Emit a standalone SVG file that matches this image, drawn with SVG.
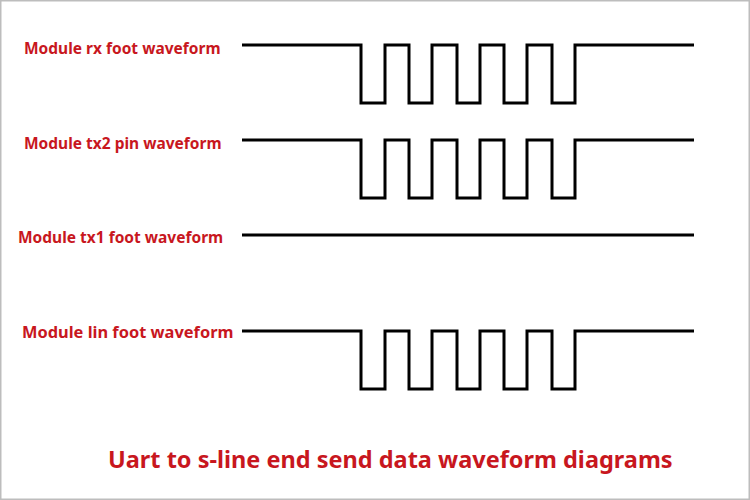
<svg xmlns="http://www.w3.org/2000/svg" width="750" height="500" viewBox="0 0 750 500">
<style>
.bg{fill:#ffffff;stroke:#bdbdbd;stroke-width:1.5}
.lbl{font-family:"Noto Sans","Liberation Sans",sans-serif;font-weight:bold;font-size:15.5px;fill:#c8171e}
.big{font-size:16.4px}
.title{font-family:"Noto Sans","Liberation Sans",sans-serif;font-weight:bold;font-size:23.5px;fill:#c8171e}
.wave{fill:none;stroke:#000000;stroke-width:3;stroke-linejoin:miter;stroke-linecap:butt}
</style>
<defs>
<path id="burst" d="M0,0 H119 V58 H143 V0 H167 V58 H190 V0 H215 V58 H238 V0 H262 V58 H285 V0 H310 V58 H333 V0 H452"/>
</defs>
<rect class="bg" x="0.75" y="0.75" width="748.5" height="498.5"/>
<g id="rx">
<text class="lbl" x="24" y="54">Module rx foot waveform</text>
<use href="#burst" class="wave" x="242" y="45"/>
</g>
<g id="tx2">
<text class="lbl" x="24" y="149">Module tx2 pin waveform</text>
<use href="#burst" class="wave" x="242" y="140"/>
</g>
<g id="tx1">
<text class="lbl" x="18" y="243">Module tx1 foot waveform</text>
<path class="wave" d="M242,235 H694"/>
</g>
<g id="lin">
<text class="lbl big" x="22" y="338">Module lin foot waveform</text>
<use href="#burst" class="wave" x="242" y="331"/>
</g>
<g id="connectors"></g>
<text class="title" x="108" y="468">Uart to s-line end send data waveform diagrams</text>
</svg>
